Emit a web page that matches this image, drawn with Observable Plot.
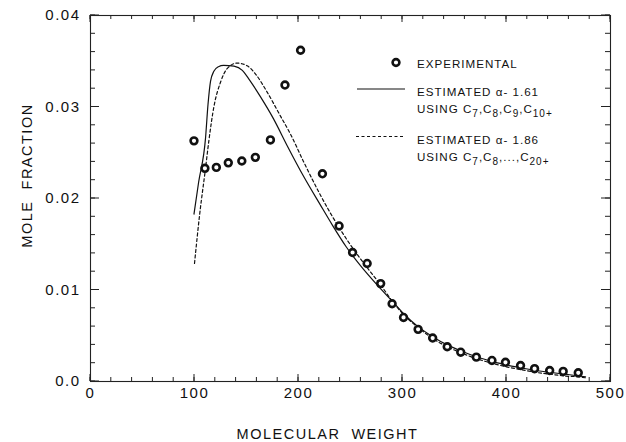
<!DOCTYPE html>
<html><head><meta charset="utf-8">
<script src="https://cdn.jsdelivr.net/npm/d3@7"></script>
<script src="https://cdn.jsdelivr.net/npm/@observablehq/plot@0.6"></script>
<style>
html,body{margin:0;padding:0;background:#fff;}
#chart{width:626px;height:442px;}
svg text{font-family:"Liberation Sans",Arial,Helvetica,sans-serif;}
</style></head><body><div id="chart"></div>
<script>
// Experimental data (molecular weight, mole fraction)
const expMW   = [99.5,110,121,132.5,145.5,158.5,173,187,202,223,239,252,266,279,290,301,315,329,343,356,371,386,399,413.5,427,441.5,454.5,469];
const expFrac = [0.0263,0.0233,0.0234,0.0239,0.0241,0.0245,0.0264,0.0324,0.0362,0.0227,0.0170,0.0141,0.0129,0.0107,0.0085,0.0070,0.0057,0.00475,0.0038,0.0032,0.00266,0.0023,0.0021,0.00175,0.0014,0.0012,0.0011,0.00095];

// Estimated alpha = 1.61 (C7..C10+), solid line
const solidMW   = [99.5,104,110.6,113,115.4,118.6,123,128,138,146,152,163.5,176,189,205,221,232,246,260,276,290,302,315,329,343,357,371,386,400,414,428,442,456,470,476];
const solidFrac = [0.0183,0.0218,0.0266,0.0303,0.0328,0.0339,0.0344,0.03455,0.03446,0.0340,0.0331,0.0311,0.0287,0.0258,0.0224,0.0193,0.0172,0.0147,0.0126,0.0105,0.0088,0.0073,0.0060,0.0049,0.0040,0.0033,0.0027,0.0022,0.0018,0.0015,0.0012,0.0010,0.0008,0.0006,0.0005];

// Estimated alpha = 1.86 (C7..C20+), dashed line
const dashMW   = [100,105,110.6,113.8,118.6,125,131.4,141,150.7,158.7,170,182.7,192,205,220,237,252,265,280,290,302,315,329,343,357,371,386,400,414,428,442,456,470,476];
const dashFrac = [0.0129,0.0183,0.0233,0.0263,0.0300,0.0327,0.0342,0.0348,0.0345,0.0336,0.0316,0.0290,0.0271,0.0240,0.0206,0.0172,0.0146,0.0126,0.0104,0.0088,0.0072,0.0059,0.0047,0.0038,0.0031,0.0025,0.0020,0.0016,0.0013,0.0010,0.0008,0.0006,0.0005,0.0004];

// Axis ticks and labels
const xMajorTicks = [0,100,200,300,400,500];
const xMinorTicks = d3.range(0,26).map(i => i*20);
const yMajorTicks = [0,0.01,0.02,0.03,0.04];
const yTickLabels = ["0.0","0.01","0.02","0.03","0.04"];
const yMinorTicks = d3.range(0,21).map(i => +(i*0.002).toFixed(3));
const xTitle = "MOLECULAR\u00a0\u00a0WEIGHT";
const yTitle = "MOLE\u00a0\u00a0FRACTION";

const expData = expMW.map((x,i) => ({x, y: expFrac[i]}));
const solidData = solidMW.map((x,i) => ({x, y: solidFrac[i]}));
const dashData = dashMW.map((x,i) => ({x, y: dashFrac[i]}));

const ink = "#111";
const plot = Plot.plot({
  width: 626, height: 442,
  marginLeft: 90, marginRight: 16, marginTop: 15, marginBottom: 61,
  x: {domain: [0,500]},
  y: {domain: [0,0.04]},
  style: {background: "#fff", color: ink, fontFamily: "Liberation Sans, Arial, sans-serif"},
  marks: [
    Plot.frame({stroke: "#222", strokeWidth: 1.1}),
    // tick labels
    Plot.axisX(xMajorTicks, {anchor: "bottom", tickSize: 0, tickPadding: 6, fontSize: 15, label: null, tickFormat: d => String(d)}),
    Plot.axisY(yMajorTicks, {anchor: "left", tickSize: 0, tickPadding: 10, fontSize: 15, label: null, tickFormat: d => yTickLabels[yMajorTicks.indexOf(d)]}),
    // axis titles
    Plot.text([xTitle], {frameAnchor: "bottom", text: d => d, textAnchor: "middle", lineAnchor: "middle", dx: -23, dy: 53, fontSize: 14.5, fill: ink}),
    Plot.text([yTitle], {frameAnchor: "left", text: d => d, textAnchor: "middle", lineAnchor: "middle", rotate: -90, dx: -63, dy: -23, fontSize: 14.5, fill: ink}),
    // curves
    Plot.line(solidData, {x: "x", y: "y", stroke: ink, strokeWidth: 1.2, curve: "monotone-x"}),
    Plot.line(dashData, {x: "x", y: "y", stroke: ink, strokeWidth: 1.2, strokeDasharray: "3,2.5", curve: "monotone-x"}),
    // experimental points
    Plot.dot(expData, {x: "x", y: "y", r: 3.4, fill: "#fff", stroke: ink, strokeWidth: 2.6})
  ]
});

document.getElementById("chart").appendChild(plot);
const svg = d3.select(plot);
svg.selectAll("text").style("letter-spacing", "1.5px");

// Inward ticks on all four sides, placed with Plot's own scales
const sx = plot.scale("x"), sy = plot.scale("y");
const [x0, x1] = sx.range, [y0, y1] = sy.range; // y0 bottom, y1 top
const tg = svg.append("g").attr("stroke", "#222").attr("stroke-width", 1);
function xt(vals, len) {
  for (const v of vals) {
    const px = sx.apply(v);
    tg.append("line").attr("x1", px).attr("x2", px).attr("y1", y0).attr("y2", y0 - len);
    tg.append("line").attr("x1", px).attr("x2", px).attr("y1", y1).attr("y2", y1 + len);
  }
}
function yt(vals, len) {
  for (const v of vals) {
    const py = sy.apply(v);
    tg.append("line").attr("y1", py).attr("y2", py).attr("x1", x0).attr("x2", x0 + len);
    tg.append("line").attr("y1", py).attr("y2", py).attr("x1", x1).attr("x2", x1 - len);
  }
}
xt(xMinorTicks, 4); xt(xMajorTicks, 7);
yt(yMinorTicks, 5); yt(yMajorTicks, 9);

// Legend
const lg = svg.append("g").attr("font-size", 11.6).attr("fill", ink).attr("text-anchor", "start").style("letter-spacing", "1px");
lg.append("circle").attr("cx", 396).attr("cy", 62.5).attr("r", 3.4).attr("fill", "#fff").attr("stroke", ink).attr("stroke-width", 2.6);
lg.append("line").attr("x1", 357).attr("x2", 405).attr("y1", 89).attr("y2", 89).attr("stroke", ink).attr("stroke-width", 1.2);
lg.append("line").attr("x1", 356).attr("x2", 405).attr("y1", 136.5).attr("y2", 136.5).attr("stroke", ink).attr("stroke-width", 1.2).attr("stroke-dasharray", "3,2.5");

function legendText(y, parts) {
  const t = lg.append("text").attr("x", 417).attr("y", y).attr("text-anchor", "start");
  let prevSub = false;
  for (const [s, sub] of parts) {
    const ts = t.append("tspan").text(s);
    if (sub) { ts.attr("font-size", 10).attr("dy", prevSub ? 0 : 3.5); }
    else { ts.attr("dy", prevSub ? -3.5 : 0); }
    prevSub = sub;
  }
}
legendText(68, [["EXPERIMENTAL", false]]);
legendText(96, [["ESTIMATED \u03b1- 1.61", false]]);
legendText(113, [["USING C",false],["7",true],[",C",false],["8",true],[",C",false],["9",true],[",C",false],["10+",true]]);
legendText(143.5, [["ESTIMATED \u03b1- 1.86", false]]);
legendText(161, [["USING C",false],["7",true],[",C",false],["8",true],[",...,C",false],["20+",true]]);
</script></body></html>
